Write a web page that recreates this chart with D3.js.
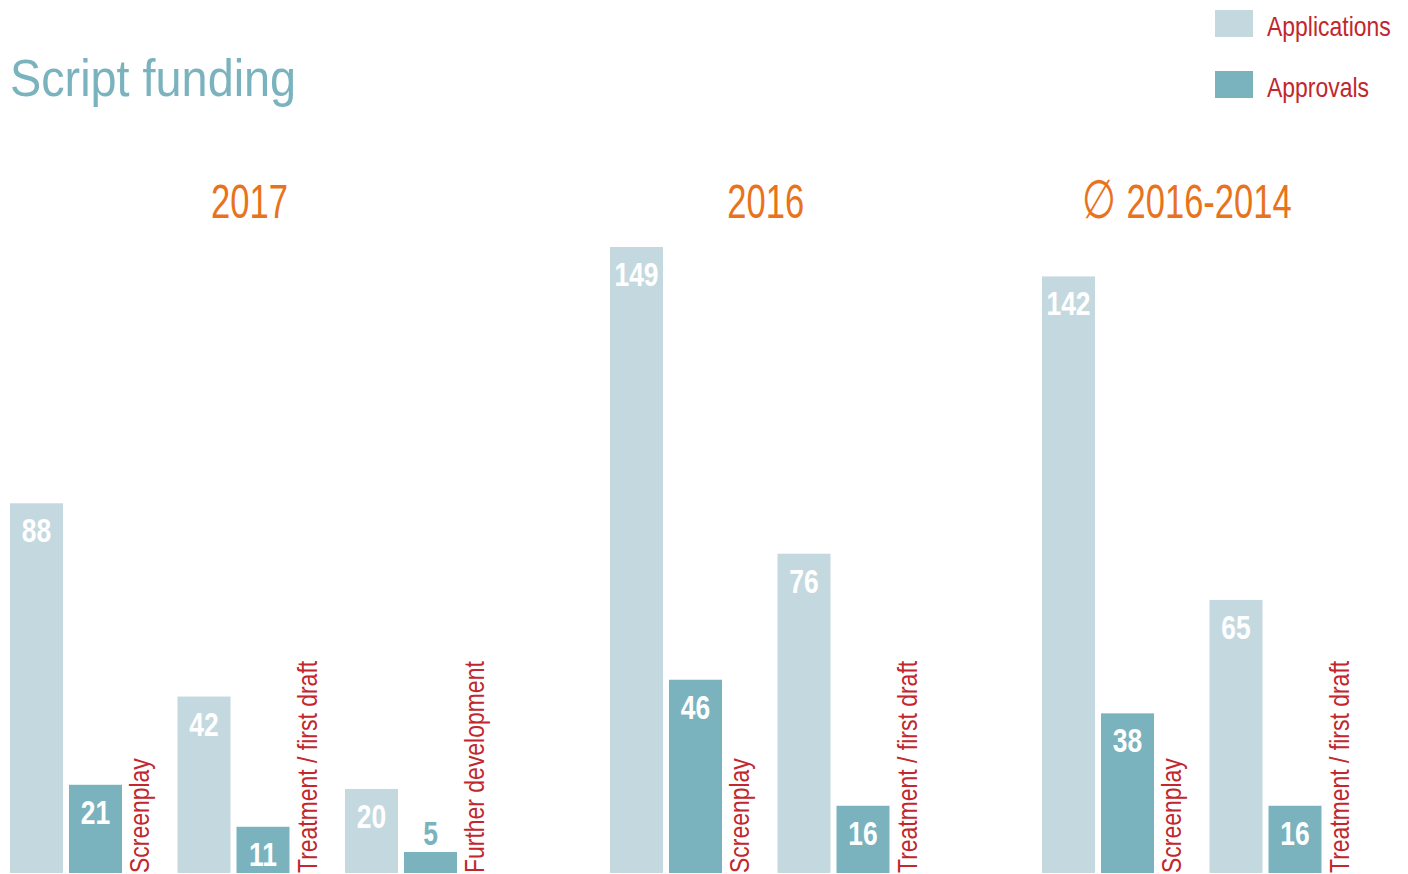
<!DOCTYPE html>
<html lang="en">
<head>
    <meta charset="UTF-8"/>
    <title>Script funding</title>
    <script src="https://d3js.org/d3.v7.min.js"></script>
    <style>
        body {
            margin: 0;
            background: white;
        }

        text {
            font-family: "Liberation Sans", Arial, sans-serif;
        }
    </style>
</head>
<body>
<div id="chart"></div>

<script>
    // data
    const series = ["Applications", "Approvals"];
    const groups = ["2017", "2016", "2016-2014"];
    const groupPrefix = ["", "", "\u2205 "];

    const categories2017 = ["Screenplay", "Treatment / first draft", "Further development"];
    const applications2017 = [88, 42, 20];
    const approvals2017 = [21, 11, 5];

    const categories2016 = ["Screenplay", "Treatment / first draft"];
    const applications2016 = [149, 76];
    const approvals2016 = [46, 16];

    const categoriesAvg = ["Screenplay", "Treatment / first draft"];
    const applicationsAvg = [142, 65];
    const approvalsAvg = [38, 16];

    const groupData = [
        {name: groups[0], prefix: groupPrefix[0], categories: categories2017, values: [applications2017, approvals2017]},
        {name: groups[1], prefix: groupPrefix[1], categories: categories2016, values: [applications2016, approvals2016]},
        {name: groups[2], prefix: groupPrefix[2], categories: categoriesAvg, values: [applicationsAvg, approvalsAvg]}
    ];

    const width = 1408;
    const height = 874;
    const colors = {Applications: "#c4d9df", Approvals: "#7ab3be"};
    const red = "#c1272d";
    const orange = "#e8731c";

    // layout
    const groupStart = [10, 610, 1042];
    const titleShift = [1, 1, -10];
    const pairStep = 167.5;
    const labelOffset = 139;
    // no condensed font installed, so squeeze glyphs horizontally
    const narrow = 0.82;

    const svg = d3.select("#chart")
        .append("svg")
        .attr("width", width)
        .attr("height", height);

    const yScale = d3.scaleLinear()
        .domain([0, d3.max(applications2016)])
        .range([873, 247]);

    const xSeries = d3.scaleBand()
        .domain(series)
        .range([0, 112])
        .paddingInner(0.102)
        .paddingOuter(0);

    // Title
    svg.append("text")
        .attr("transform", "translate(10, 96) scale(0.9, 1)")
        .style("font-size", "52px")
        .style("fill", colors.Approvals)
        .text("Script funding");

    // Legend
    const legend = svg.selectAll(".legend")
        .data(series)
        .join("g")
        .attr("class", "legend")
        .attr("transform", (d, i) => `translate(1215, ${10 + i * 61})`);
    legend.append("rect")
        .attr("width", 38)
        .attr("height", 27)
        .attr("fill", d => colors[d]);
    legend.append("text")
        .attr("transform", `translate(52, 26) scale(${narrow}, 1)`)
        .style("font-size", "28px")
        .style("fill", red)
        .text(d => d);

    groupData.forEach((group, gi) => {
        const xCat = d3.scaleBand()
            .domain(group.categories)
            .range([0, pairStep * group.categories.length]);

        const g = svg.append("g")
            .attr("transform", `translate(${groupStart[gi]}, 0)`);

        // Group title
        const center = (pairStep * (group.categories.length - 1) + labelOffset + 3) / 2 + titleShift[gi];
        const title = g.append("text")
            .attr("transform", `translate(${center}, 218) scale(0.72, 1)`)
            .style("font-size", "48px")
            .style("text-anchor", "middle")
            .style("fill", orange);
        if (group.prefix) {
            title.append("tspan")
                .style("font-size", "54px")
                .text(group.prefix);
        }
        title.append("tspan").text(group.name);

        const bars = [];
        group.categories.forEach((cat, ci) => {
            series.forEach((s, si) => {
                bars.push({cat: cat, series: s, value: group.values[si][ci]});
            });
        });

        g.selectAll("rect")
            .data(bars)
            .join("rect")
            .attr("x", d => xCat(d.cat) + xSeries(d.series))
            .attr("y", d => yScale(d.value))
            .attr("width", xSeries.bandwidth())
            .attr("height", d => yScale(0) - yScale(d.value))
            .attr("fill", d => colors[d.series]);

        const inside = d => yScale(0) - yScale(d.value) > 40;

        g.selectAll(".value")
            .data(bars)
            .join("text")
            .attr("class", "value")
            .attr("transform", d => {
                const x = xCat(d.cat) + xSeries(d.series) + xSeries.bandwidth() / 2;
                const y = inside(d) ? yScale(d.value) + 39 : yScale(d.value) - 7;
                return `translate(${x}, ${y}) scale(0.8, 1)`;
            })
            .style("font-size", "33px")
            .style("font-weight", "bold")
            .style("text-anchor", "middle")
            .style("fill", d => inside(d) ? "white" : colors[d.series])
            .text(d => d.value);

        g.selectAll(".cat")
            .data(group.categories)
            .join("text")
            .attr("class", "cat")
            .attr("transform", d => `translate(${xCat(d) + labelOffset}, ${yScale(0)}) rotate(-90) scale(${narrow}, 1)`)
            .style("font-size", "28px")
            .style("fill", red)
            .text(d => d);
    });
</script>
</body>
</html>
